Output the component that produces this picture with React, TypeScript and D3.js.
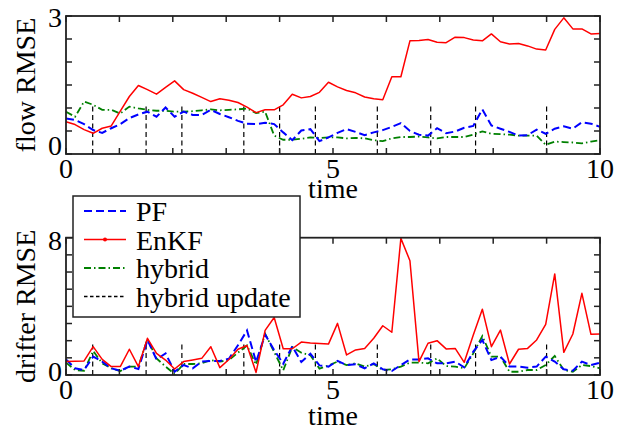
import { useEffect } from 'react';
import * as d3 from 'd3';

// 60 samples evenly spread over [0, 10]
const N_SAMPLES = 60;
const times = d3.range(N_SAMPLES).map((i) => (i * 10) / (N_SAMPLES - 1));

// flow RMSE
const flowPF = [
  0.77, 0.74, 0.65, 0.52, 0.46, 0.56, 0.65, 0.78, 0.86, 0.92,
  0.81, 1.01, 0.81, 0.92, 0.85, 0.85, 0.96, 0.87, 0.8, 0.72,
  0.66, 0.65, 0.68, 0.65, 0.47, 0.3, 0.51, 0.54, 0.28, 0.36,
  0.46, 0.54, 0.48, 0.41, 0.47, 0.52, 0.59, 0.67, 0.5, 0.42,
  0.4, 0.56, 0.45, 0.49, 0.57, 0.61, 0.97, 0.62, 0.55, 0.48,
  0.4, 0.41, 0.53, 0.44, 0.55, 0.6, 0.55, 0.69, 0.66, 0.59,
];
const flowEnKF = [
  0.7, 0.64, 0.53, 0.45, 0.56, 0.61, 0.93, 1.25, 1.49, 1.4,
  1.3, 1.45, 1.59, 1.4, 1.32, 1.23, 1.14, 1.2, 1.17, 1.12,
  1.02, 0.9, 0.96, 0.96, 1.07, 1.3, 1.22, 1.25, 1.34, 1.56,
  1.46, 1.38, 1.33, 1.24, 1.2, 1.18, 1.68, 1.68, 2.46, 2.47,
  2.49, 2.43, 2.42, 2.54, 2.53, 2.48, 2.46, 2.61, 2.44, 2.39,
  2.4, 2.35, 2.28, 2.26, 2.71, 2.96, 2.72, 2.72, 2.61, 2.62,
];
const flowHybrid = [
  0.92, 0.81, 1.14, 1.07, 0.96, 0.96, 0.88, 1.03, 0.99, 0.96,
  0.94, 0.94, 0.92, 0.92, 0.93, 0.95, 0.97, 0.95, 0.96, 0.97,
  0.99, 0.89, 0.92, 0.4, 0.31, 0.31, 0.33, 0.36, 0.35, 0.36,
  0.36, 0.34, 0.35, 0.34, 0.3, 0.28, 0.34, 0.37, 0.37, 0.38,
  0.36, 0.34, 0.37, 0.37, 0.37, 0.42, 0.49, 0.44, 0.43, 0.42,
  0.4, 0.4, 0.4, 0.2, 0.27, 0.26, 0.25, 0.23, 0.27, 0.3,
];

// drifter RMSE
const drifterPF = [
  0.91, 0.39, 0.29, 1.07, 0.78, 0.39, 0.25, 0.49, 0.35, 2.04,
  0.91, 1.26, 0.19, 0.58, 0.39, 0.78, 0.82, 0.82, 0.95, 1.73,
  2.6, 0.76, 2.35, 1.45, 0.66, 1.67, 0.76, 1.24, 0.56, 0.49,
  0.82, 0.58, 0.62, 0.39, 0.68, 0.33, 0.23, 0.58, 0.91, 0.91,
  0.97, 0.68, 0.68, 0.78, 0.45, 1.36, 2.04, 0.87, 1.07, 0.49,
  0.49, 0.43, 0.49, 1.07, 0.78, 0.33, 0.25, 0.78, 0.58, 0.72,
];
const drifterEnKF = [
  0.78, 0.8, 0.82, 1.65, 0.91, 0.49, 0.49, 1.5, 0.49, 2.14,
  1.26, 0.87, 0.35, 0.78, 0.87, 0.97, 1.65, 0.43, 0.9, 1.5,
  1.72, 0.15, 2.6, 3.35, 1.53, 1.53, 1.92, 1.86, 1.83, 1.8,
  3.01, 1.17, 1.46, 1.55, 2.14, 2.87, 2.49, 7.96, 6.66, 0.78,
  1.85, 2.0, 1.52, 1.55, 0.74, 2.33, 3.83, 1.65, 2.62, 0.64,
  1.5, 1.55, 2.04, 2.95, 5.89, 1.32, 2.39, 4.76, 2.37, 2.39,
];
const drifterHybrid = [
  0.72, 0.29, 0.25, 1.4, 0.68, 0.39, 0.23, 0.49, 0.49, 2.08,
  0.97, 0.49, 0.06, 0.64, 0.64, 0.68, 0.87, 0.78, 0.87, 1.3,
  1.72, 0.6, 2.41, 1.34, 0.27, 1.63, 1.3, 1.15, 0.37, 0.56,
  0.78, 0.58, 0.68, 0.49, 0.64, 0.29, 0.33, 0.49, 0.72, 0.72,
  0.68, 0.97, 0.52, 0.49, 0.39, 1.26, 2.27, 1.07, 1.07, 0.19,
  0.19, 0.29, 0.29, 0.58, 1.11, 0.29, 0.19, 0.58, 0.52, 0.39,
];

// times at which the hybrid filter switched
const updateTimes = [0.5, 1.5, 2.17, 3.33, 4.0, 4.67, 5.83, 6.83, 7.67, 9.0];

const xTickLabels = [0, 5, 10];

const W = 626;
const H = 431;
const FONT = '"Liberation Serif", "Times New Roman", serif';
const FS = 28;
const X0 = 66;
const X1 = 600;
const TICK = 6;

const SERIES_STYLE = {
  pf: { color: '#0000ff', width: 2, dash: '8,4' },
  enkf: { color: '#ff0000', width: 1.5, dash: null as string | null },
  hybrid: { color: '#008000', width: 1.8, dash: '7,3,1.5,3' },
  update: { color: '#000000', width: 1.2, dash: '5,3.5' },
};

interface PanelProps {
  pf: number[];
  enkf: number[];
  hybrid: number[];
  yMax: number;
  yStep: number;
  top: number;
  bottom: number;
  updateHeight: number;
  yLabel: string;
  timeBaseline: number;
  yLabelDy: [number, number];
}

function Panel({ pf, enkf, hybrid, yMax, yStep, top, bottom, updateHeight, yLabel, timeBaseline, yLabelDy }: PanelProps) {
  const x = d3.scaleLinear().domain([0, 10]).range([X0, X1]);
  const y = d3.scaleLinear().domain([0, yMax]).range([bottom, top]);
  const line = d3
    .line<number>()
    .x((_, i) => x(times[i]))
    .y((d) => y(d));

  const xTicks = d3.range(0, 11, 1);
  const yTicks = d3.range(0, yMax + yStep / 2, yStep);
  const frame = '#222';

  return (
    <g>
      {updateTimes.map((t, i) => (
        <line
          key={`u${i}`}
          x1={x(t)}
          x2={x(t)}
          y1={y(0)}
          y2={y(updateHeight)}
          stroke={SERIES_STYLE.update.color}
          strokeWidth={SERIES_STYLE.update.width}
          strokeDasharray={SERIES_STYLE.update.dash}
        />
      ))}
      <path d={line(hybrid) ?? ''} fill="none" stroke={SERIES_STYLE.hybrid.color} strokeWidth={SERIES_STYLE.hybrid.width} strokeDasharray={SERIES_STYLE.hybrid.dash} />
      <path d={line(pf) ?? ''} fill="none" stroke={SERIES_STYLE.pf.color} strokeWidth={SERIES_STYLE.pf.width} strokeDasharray={SERIES_STYLE.pf.dash} />
      <path d={line(enkf) ?? ''} fill="none" stroke={SERIES_STYLE.enkf.color} strokeWidth={SERIES_STYLE.enkf.width} strokeLinejoin="round" />

      {/* frame with inward ticks on every side */}
      <rect x={X0} y={top} width={X1 - X0} height={bottom - top} fill="none" stroke={frame} strokeWidth={1.8} />
      {xTicks.map((t) => (
        <g key={`xt${t}`}>
          <line x1={x(t)} x2={x(t)} y1={bottom} y2={bottom - TICK} stroke={frame} strokeWidth={1.5} />
          <line x1={x(t)} x2={x(t)} y1={top} y2={top + TICK} stroke={frame} strokeWidth={1.5} />
        </g>
      ))}
      {yTicks.map((v) => (
        <g key={`yt${v}`}>
          <line x1={X0} x2={X0 + TICK} y1={y(v)} y2={y(v)} stroke={frame} strokeWidth={1.5} />
          <line x1={X1} x2={X1 - TICK} y1={y(v)} y2={y(v)} stroke={frame} strokeWidth={1.5} />
        </g>
      ))}

      {xTickLabels.map((t) => (
        <text key={`xl${t}`} x={x(t)} y={bottom + 24} textAnchor="middle" fontFamily={FONT} fontSize={FS}>
          {t}
        </text>
      ))}
      <text x={62} y={y(0) + yLabelDy[0]} textAnchor="end" fontFamily={FONT} fontSize={FS}>
        0
      </text>
      <text x={62} y={y(yMax) + yLabelDy[1]} textAnchor="end" fontFamily={FONT} fontSize={FS}>
        {yMax}
      </text>

      <text x={x(5)} y={timeBaseline} textAnchor="middle" fontFamily={FONT} fontSize={FS}>
        time
      </text>
      <text
        transform={`translate(35,${(top + bottom) / 2}) rotate(-90)`}
        textAnchor="middle"
        fontFamily={FONT}
        fontSize={FS}
      >
        {yLabel}
      </text>
    </g>
  );
}

const legendItems = [
  { label: 'PF', key: 'pf' as const },
  { label: 'EnKF', key: 'enkf' as const },
  { label: 'hybrid', key: 'hybrid' as const },
  { label: 'hybrid update', key: 'update' as const },
];

function Legend() {
  const lx = 73;
  const ly = 196;
  const rowY = d3.scaleLinear().domain([0, 3]).range([211, 296.5]);
  return (
    <g>
      <rect x={lx} y={ly} width={227} height={121} fill="#fff" stroke="#222" strokeWidth={1.5} />
      {legendItems.map((it, i) => {
        const s = SERIES_STYLE[it.key];
        const yy = rowY(i);
        return (
          <g key={it.key}>
            <line
              x1={84}
              x2={126}
              y1={yy}
              y2={yy}
              stroke={s.color}
              strokeWidth={it.key === 'update' ? 1.3 : s.width}
              strokeDasharray={it.key === 'update' ? '3.5,2.5' : s.dash ?? undefined}
            />
            {it.key === 'enkf' && <circle cx={105} cy={yy} r={2} fill={s.color} />}
            <text x={136} y={yy + 10} fontFamily={FONT} fontSize={FS}>
              {it.label}
            </text>
          </g>
        );
      })}
    </g>
  );
}

export default function App() {
  useEffect(() => {
    document.body.style.margin = '0';
  }, []);

  return (
    <svg width={W} height={H} viewBox={`0 0 ${W} ${H}`} style={{ display: 'block', background: '#fff' }}>
      <rect width={W} height={H} fill="#fff" />
      <Panel
        pf={flowPF}
        enkf={flowEnKF}
        hybrid={flowHybrid}
        yMax={3}
        yStep={0.5}
        top={16}
        bottom={154}
        updateHeight={1.06}
        yLabel="flow RMSE"
        timeBaseline={198}
        yLabelDy={[1, 11]}
      />
      <Panel
        pf={drifterPF}
        enkf={drifterEnKF}
        hybrid={drifterHybrid}
        yMax={8}
        yStep={1}
        top={237.7}
        bottom={375}
        updateHeight={1.85}
        yLabel="drifter RMSE"
        timeBaseline={425}
        yLabelDy={[6, 12]}
      />
      <Legend />
    </svg>
  );
}
